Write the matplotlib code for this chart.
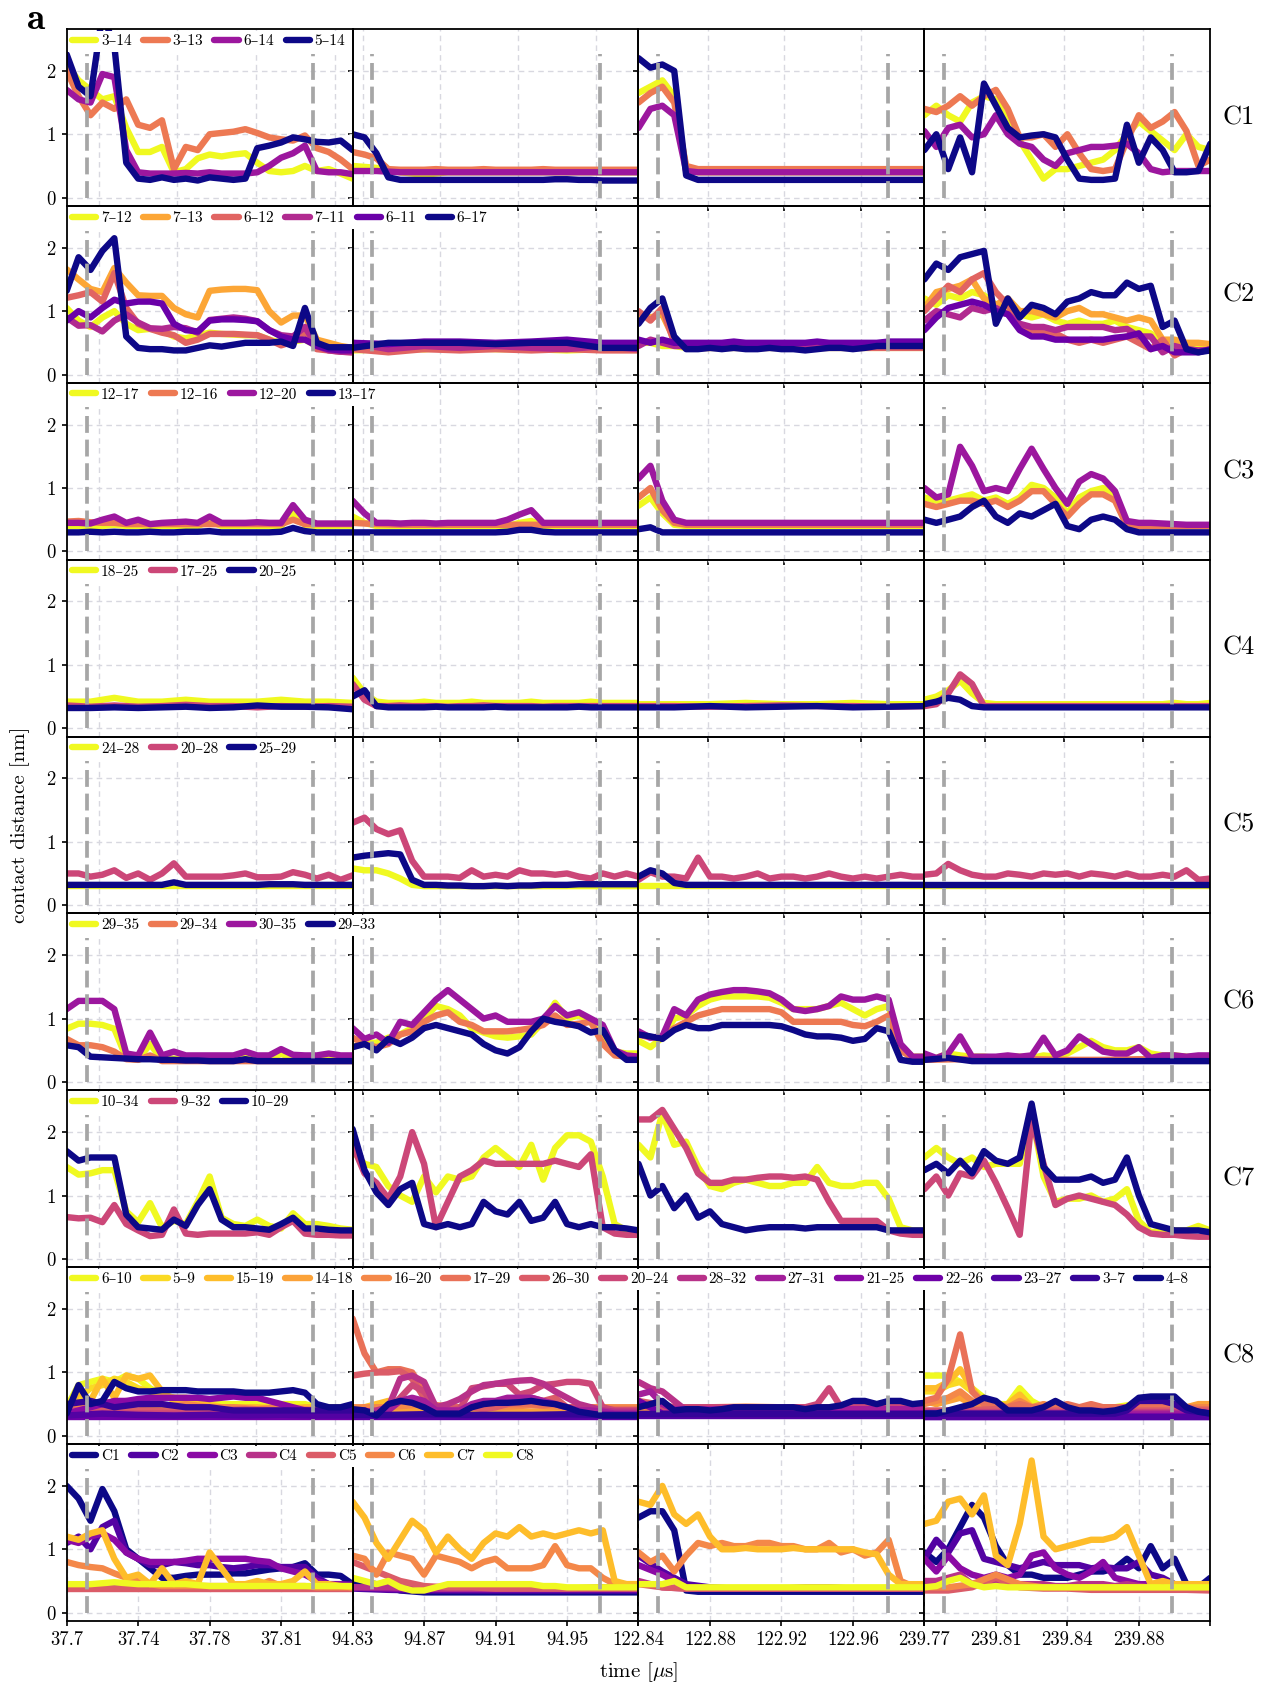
import numpy as np
import matplotlib
matplotlib.use("Agg")
import matplotlib.pyplot as plt
from matplotlib.ticker import MultipleLocator

plt.rcParams["font.family"] = ["cmr10", "DejaVu Serif"]
plt.rcParams["mathtext.fontset"] = "cm"
plt.rcParams["axes.formatter.use_mathtext"] = True

# time windows in microseconds (start, width) and the labels printed under them
win_start = [37.7037, 94.8348, 122.844, 239.7695]
win_width = [0.1455, 0.1472, 0.149, 0.1445]
win_ticklabels = [
    ["37.7", "37.74", "37.78", "37.81", ""],
    ["94.83", "94.87", "94.91", "94.95", ""],
    ["122.84", "122.88", "122.92", "122.96", ""],
    ["239.77", "239.81", "239.84", "239.88", ""],
]
# start / end of each event window
event_start = [37.714, 94.845, 122.854, 239.7796]
event_end = [37.829, 94.962, 122.974, 239.8948]

# ---- C1 ----
C1_LABELS = ["3–14", "3–13", "6–14", "5–14"]
C1_W1 = [
    [2.1, 1.85, 1.7, 1.55, 1.6, 1.1, 0.72, 0.72, 0.8, 0.4, 0.45, 0.62, 0.68, 0.65, 0.68, 0.7, 0.55, 0.42, 0.4, 0.42, 0.5, 0.42, 0.45, 0.38, 0.3],
    [2.0, 1.6, 1.3, 1.5, 1.4, 1.55, 1.15, 1.1, 1.22, 0.45, 0.8, 0.75, 1.0, 1.02, 1.04, 1.08, 1.02, 0.95, 0.92, 0.9, 0.98, 0.78, 0.72, 0.6, 0.45],
    [1.7, 1.55, 1.5, 1.95, 1.9, 0.75, 0.4, 0.38, 0.38, 0.38, 0.39, 0.38, 0.4, 0.38, 0.38, 0.38, 0.4, 0.5, 0.63, 0.7, 0.82, 0.42, 0.4, 0.4, 0.37],
    [2.26, 1.75, 1.6, 2.9, 2.4, 0.55, 0.3, 0.28, 0.32, 0.28, 0.3, 0.27, 0.32, 0.3, 0.28, 0.3, 0.78, 0.82, 0.87, 0.95, 0.92, 0.88, 0.87, 0.9, 0.75],
]
C1_W2 = [
    [0.5, 0.47, 0.4, 0.36, 0.4, 0.4, 0.4, 0.4, 0.4, 0.4, 0.4, 0.4, 0.4],
    [0.72, 0.68, 0.62, 0.45, 0.44, 0.44, 0.44, 0.45, 0.44, 0.44, 0.44, 0.45, 0.44, 0.44, 0.44, 0.44, 0.45, 0.44, 0.44, 0.44, 0.44, 0.44, 0.44, 0.44, 0.44],
    [0.42, 0.42, 0.4, 0.4, 0.4, 0.4, 0.4, 0.4, 0.4, 0.4, 0.4, 0.4, 0.4],
    [1.0, 0.95, 0.7, 0.32, 0.28, 0.28, 0.28, 0.28, 0.28, 0.28, 0.28, 0.28, 0.28, 0.28, 0.28, 0.28, 0.28, 0.29, 0.29, 0.28, 0.28, 0.27, 0.27, 0.27, 0.27],
]
C1_W3 = [
    [1.65, 1.75, 1.85, 1.6, 0.45, 0.4, 0.4, 0.4, 0.4, 0.4, 0.4, 0.4, 0.4, 0.4, 0.4, 0.4, 0.4, 0.4, 0.4, 0.4, 0.4, 0.4, 0.4, 0.4, 0.4],
    [1.5, 1.65, 1.75, 1.5, 0.5, 0.45, 0.45, 0.45, 0.45, 0.45, 0.45, 0.45, 0.45, 0.45, 0.45, 0.45, 0.45, 0.45, 0.45, 0.45, 0.45, 0.45, 0.45, 0.45, 0.45],
    [1.1, 1.4, 1.45, 1.3, 0.42, 0.4, 0.4, 0.4, 0.4, 0.4, 0.4, 0.4, 0.4, 0.4, 0.4, 0.4, 0.4, 0.4, 0.4, 0.4, 0.4, 0.4, 0.4, 0.4, 0.4],
    [2.2, 2.05, 2.1, 2.0, 0.35, 0.28, 0.28, 0.28, 0.28, 0.28, 0.28, 0.28, 0.28, 0.28, 0.28, 0.28, 0.28, 0.28, 0.28, 0.28, 0.28, 0.28, 0.28, 0.28, 0.28],
]
C1_W4 = [
    [1.3, 1.45, 1.3, 1.2, 1.5, 1.6, 1.55, 1.2, 0.9, 0.6, 0.3, 0.45, 0.45, 0.5, 0.55, 0.6, 0.75, 1.0, 1.2, 1.05, 0.9, 0.75, 1.0, 0.8, 0.75],
    [1.4, 1.35, 1.45, 1.6, 1.45, 1.6, 1.7, 1.4, 0.95, 0.95, 1.0, 0.8, 1.0, 0.7, 0.45, 0.42, 0.45, 0.9, 1.3, 1.1, 1.2, 1.35, 1.05, 0.5, 0.6],
    [1.05, 0.8, 1.1, 1.15, 0.95, 1.0, 1.3, 1.0, 0.85, 0.8, 0.6, 0.5, 0.7, 0.75, 0.8, 0.8, 0.82, 0.85, 0.7, 0.45, 0.4, 0.42, 0.42, 0.42, 0.42],
    [0.75, 1.0, 0.45, 0.95, 0.4, 1.8, 1.45, 1.1, 0.95, 0.98, 1.0, 0.95, 0.6, 0.3, 0.28, 0.28, 0.3, 1.15, 0.55, 0.95, 0.75, 0.4, 0.4, 0.42, 0.85],
]

# ---- C2 ----
C2_LABELS = ["7–12", "7–13", "6–12", "7–11", "6–11", "6–17"]
C2_W1 = [
    [1.05, 0.85, 0.75, 0.9, 1.0, 0.8, 0.7, 0.72, 0.7, 0.6, 0.57, 0.62, 0.66, 0.64, 0.63, 0.62, 0.62, 0.55, 0.5, 0.52, 0.55, 0.45, 0.4, 0.38, 0.38],
    [1.66, 1.5, 1.35, 1.3, 1.68, 1.45, 1.25, 1.24, 1.24, 1.05, 0.95, 0.9, 1.32, 1.34, 1.35, 1.35, 1.33, 1.0, 0.82, 0.93, 0.93, 0.55, 0.5, 0.45, 0.42],
    [1.21, 1.25, 1.3, 1.15, 1.6, 1.05, 0.8, 0.72, 0.66, 0.62, 0.5, 0.55, 0.64, 0.64, 0.64, 0.63, 0.62, 0.55, 0.46, 0.52, 0.68, 0.4, 0.38, 0.36, 0.35],
    [0.9, 0.77, 0.78, 0.68, 0.85, 0.95, 0.82, 0.73, 0.72, 0.75, 0.73, 0.66, 0.86, 0.88, 0.9, 0.88, 0.84, 0.7, 0.62, 0.6, 0.75, 0.45, 0.38, 0.36, 0.35],
    [0.85, 1.0, 0.9, 1.05, 1.18, 1.12, 1.15, 1.15, 1.12, 0.8, 0.7, 0.68, 0.85, 0.87, 0.87, 0.86, 0.84, 0.7, 0.6, 0.55, 0.55, 0.45, 0.4, 0.38, 0.38],
    [1.32, 1.85, 1.65, 1.95, 2.15, 0.6, 0.42, 0.4, 0.4, 0.38, 0.38, 0.42, 0.46, 0.44, 0.47, 0.5, 0.5, 0.5, 0.52, 0.45, 1.05, 0.5, 0.43, 0.43, 0.43],
]
C2_W2 = [
    [0.38, 0.4, 0.4, 0.42, 0.4, 0.4, 0.38, 0.4, 0.4],
    [0.45, 0.45, 0.4, 0.45, 0.42, 0.45, 0.42, 0.45, 0.45],
    [0.4, 0.35, 0.4, 0.38, 0.4, 0.38, 0.4, 0.38, 0.38],
    [0.5, 0.4, 0.45, 0.42, 0.45, 0.42, 0.4, 0.45, 0.4],
    [0.5, 0.48, 0.52, 0.52, 0.5, 0.52, 0.55, 0.5, 0.5],
    [0.42, 0.5, 0.5, 0.5, 0.48, 0.5, 0.5, 0.42, 0.42],
]
C2_W3 = [
    [0.5, 0.5, 0.45, 0.45, 0.42, 0.42, 0.42, 0.42, 0.42, 0.42, 0.42, 0.42, 0.42, 0.42, 0.42, 0.42, 0.42, 0.42, 0.42, 0.42, 0.42, 0.42, 0.42, 0.42, 0.42],
    [0.95, 0.9, 0.95, 0.55, 0.42, 0.42, 0.42, 0.45, 0.45, 0.45, 0.45, 0.45, 0.45, 0.45, 0.45, 0.45, 0.45, 0.45, 0.45, 0.45, 0.45, 0.45, 0.45, 0.45, 0.45],
    [1.0, 0.85, 1.05, 0.5, 0.42, 0.42, 0.42, 0.42, 0.42, 0.42, 0.42, 0.42, 0.42, 0.42, 0.42, 0.42, 0.42, 0.42, 0.42, 0.42, 0.42, 0.42, 0.42, 0.42, 0.42],
    [0.45, 0.55, 0.5, 0.45, 0.45, 0.45, 0.45, 0.45, 0.45, 0.45, 0.45, 0.45, 0.45, 0.45, 0.45, 0.45, 0.45, 0.45, 0.45, 0.45, 0.45, 0.45, 0.45, 0.45, 0.45],
    [0.55, 0.5, 0.55, 0.5, 0.5, 0.5, 0.5, 0.5, 0.52, 0.5, 0.5, 0.5, 0.5, 0.5, 0.5, 0.52, 0.5, 0.5, 0.5, 0.5, 0.5, 0.52, 0.52, 0.52, 0.52],
    [0.8, 1.05, 1.2, 0.6, 0.4, 0.4, 0.42, 0.4, 0.42, 0.4, 0.4, 0.42, 0.4, 0.4, 0.38, 0.4, 0.42, 0.42, 0.4, 0.42, 0.45, 0.45, 0.45, 0.45, 0.45],
]
C2_W4 = [
    [1.2, 1.1, 1.25, 1.2, 1.3, 1.25, 1.1, 1.05, 0.95, 0.9, 0.95, 0.85, 0.8, 0.85, 0.8, 0.8, 0.85, 0.75, 0.7, 0.65, 0.5, 0.45, 0.45, 0.45, 0.45],
    [1.05, 1.3, 1.35, 1.4, 1.5, 1.2, 1.1, 1.2, 1.0, 1.0, 0.95, 0.9, 1.0, 1.05, 0.95, 0.95, 0.9, 0.85, 0.9, 0.85, 0.55, 0.55, 0.5, 0.5, 0.48],
    [1.0, 1.2, 1.4, 1.3, 1.5, 1.6, 1.3, 1.1, 0.75, 0.7, 0.65, 0.65, 0.55, 0.5, 0.55, 0.5, 0.55, 0.6, 0.5, 0.4, 0.55, 0.3, 0.4, 0.38, 0.38],
    [0.85, 1.0, 0.95, 0.9, 1.05, 1.0, 1.05, 0.95, 0.8, 0.75, 0.75, 0.7, 0.75, 0.75, 0.75, 0.75, 0.7, 0.72, 0.6, 0.6, 0.35, 0.45, 0.4, 0.38, 0.38],
    [0.7, 0.9, 1.05, 1.1, 1.15, 1.1, 1.0, 0.95, 0.7, 0.6, 0.6, 0.55, 0.55, 0.55, 0.55, 0.55, 0.58, 0.6, 0.65, 0.4, 0.45, 0.35, 0.35, 0.35, 0.4],
    [1.5, 1.75, 1.65, 1.85, 1.9, 1.95, 0.8, 1.2, 0.9, 1.1, 1.05, 0.95, 1.15, 1.2, 1.3, 1.25, 1.25, 1.45, 1.35, 1.4, 0.75, 0.85, 0.4, 0.35, 0.38],
]

# ---- C3 ----
C3_LABELS = ["12–17", "12–16", "12–20", "13–17"]
C3_W1 = [
    [0.4, 0.4, 0.4, 0.4, 0.42, 0.4, 0.4, 0.4, 0.4, 0.4, 0.4, 0.4, 0.48, 0.4, 0.4, 0.4, 0.4, 0.4, 0.4, 0.6, 0.42, 0.4, 0.4, 0.4, 0.4],
    [0.47, 0.48, 0.46, 0.45, 0.45, 0.43, 0.43, 0.43, 0.43, 0.43, 0.43, 0.43, 0.43, 0.43, 0.43, 0.43, 0.43, 0.43, 0.43, 0.5, 0.43, 0.43, 0.43, 0.43, 0.43],
    [0.45, 0.45, 0.44, 0.5, 0.55, 0.45, 0.5, 0.43, 0.45, 0.46, 0.47, 0.45, 0.55, 0.45, 0.45, 0.45, 0.46, 0.45, 0.45, 0.73, 0.5, 0.44, 0.44, 0.44, 0.44],
    [0.3, 0.3, 0.31, 0.3, 0.31, 0.3, 0.3, 0.31, 0.3, 0.3, 0.31, 0.31, 0.32, 0.3, 0.3, 0.3, 0.3, 0.3, 0.31, 0.37, 0.32, 0.3, 0.3, 0.3, 0.3],
]
C3_W2 = [
    [0.55, 0.45, 0.4, 0.4, 0.4, 0.4, 0.4, 0.4, 0.4, 0.4, 0.4, 0.4, 0.4, 0.4, 0.45, 0.48, 0.4, 0.4, 0.4, 0.4, 0.4, 0.4, 0.4, 0.4, 0.4],
    [0.45, 0.43, 0.42, 0.42, 0.42, 0.42, 0.42, 0.42, 0.42, 0.42, 0.42, 0.42, 0.42],
    [0.8, 0.6, 0.45, 0.45, 0.44, 0.45, 0.45, 0.44, 0.45, 0.45, 0.45, 0.45, 0.45, 0.5, 0.58, 0.65, 0.45, 0.45, 0.45, 0.45, 0.45, 0.45, 0.45, 0.45, 0.45],
    [0.3, 0.3, 0.3, 0.3, 0.3, 0.3, 0.3, 0.3, 0.3, 0.3, 0.3, 0.3, 0.3, 0.31, 0.34, 0.34, 0.31, 0.3, 0.3, 0.3, 0.3, 0.3, 0.3, 0.3, 0.3],
]
C3_W3 = [
    [0.72, 0.85, 0.6, 0.42, 0.4, 0.4, 0.4, 0.4, 0.4, 0.4, 0.4, 0.4, 0.4, 0.4, 0.4, 0.4, 0.4, 0.4, 0.4, 0.4, 0.4, 0.4, 0.4, 0.4, 0.4],
    [0.85, 1.0, 0.65, 0.45, 0.42, 0.42, 0.42, 0.42, 0.42, 0.42, 0.42, 0.42, 0.42, 0.42, 0.42, 0.42, 0.42, 0.42, 0.42, 0.42, 0.42, 0.42, 0.42, 0.42, 0.42],
    [1.15, 1.35, 0.8, 0.5, 0.45, 0.45, 0.45, 0.45, 0.45, 0.45, 0.45, 0.45, 0.45, 0.45, 0.45, 0.45, 0.45, 0.45, 0.45, 0.45, 0.45, 0.45, 0.45, 0.45, 0.45],
    [0.35, 0.38, 0.3, 0.3, 0.3, 0.3, 0.3, 0.3, 0.3, 0.3, 0.3, 0.3, 0.3, 0.3, 0.3, 0.3, 0.3, 0.3, 0.3, 0.3, 0.3, 0.3, 0.3, 0.3, 0.3],
]
C3_W4 = [
    [0.85, 0.8, 0.8, 0.85, 0.9, 0.8, 0.85, 0.75, 0.85, 1.05, 1.0, 0.85, 0.6, 0.85, 0.95, 1.0, 0.85, 0.4, 0.4, 0.4, 0.4, 0.4, 0.4, 0.4, 0.4],
    [0.75, 0.7, 0.75, 0.8, 0.8, 0.75, 0.8, 0.7, 0.8, 0.95, 0.95, 0.75, 0.55, 0.75, 0.9, 0.9, 0.8, 0.4, 0.4, 0.4, 0.4, 0.4, 0.4, 0.4, 0.4],
    [1.0, 0.85, 0.9, 1.65, 1.35, 0.95, 1.0, 0.95, 1.3, 1.62, 1.3, 1.0, 0.75, 1.1, 1.22, 1.15, 0.95, 0.48, 0.45, 0.45, 0.44, 0.43, 0.42, 0.42, 0.42],
    [0.5, 0.45, 0.5, 0.55, 0.7, 0.8, 0.55, 0.45, 0.6, 0.55, 0.65, 0.75, 0.4, 0.35, 0.5, 0.55, 0.5, 0.35, 0.3, 0.3, 0.3, 0.3, 0.3, 0.3, 0.3],
]

# ---- C4 ----
C4_LABELS = ["18–25", "17–25", "20–25"]
C4_W1 = [
    [0.42, 0.42, 0.48, 0.42, 0.42, 0.45, 0.42, 0.42, 0.42, 0.45, 0.42, 0.42, 0.4],
    [0.36, 0.34, 0.36, 0.34, 0.35, 0.37, 0.35, 0.35, 0.33, 0.35, 0.34, 0.35, 0.34],
    [0.32, 0.32, 0.33, 0.32, 0.33, 0.34, 0.32, 0.33, 0.36, 0.34, 0.34, 0.33, 0.3],
]
C4_W2 = [
    [0.8, 0.55, 0.42, 0.4, 0.4, 0.4, 0.42, 0.4, 0.4, 0.4, 0.42, 0.4, 0.4, 0.4, 0.4, 0.42, 0.4, 0.4, 0.4, 0.4, 0.42, 0.4, 0.4, 0.4, 0.4],
    [0.7, 0.45, 0.35, 0.35, 0.36, 0.35, 0.35, 0.35, 0.34, 0.35, 0.35, 0.36, 0.35, 0.35, 0.35, 0.35, 0.34, 0.35, 0.35, 0.35, 0.35, 0.35, 0.35, 0.35, 0.35],
    [0.5, 0.6, 0.35, 0.33, 0.33, 0.33, 0.33, 0.34, 0.33, 0.33, 0.33, 0.33, 0.34, 0.33, 0.33, 0.33, 0.33, 0.33, 0.33, 0.34, 0.33, 0.33, 0.33, 0.33, 0.33],
]
C4_W3 = [
    [0.38, 0.38, 0.38, 0.4, 0.38, 0.38, 0.4, 0.38, 0.38],
    [0.35, 0.35, 0.34, 0.35, 0.36, 0.35, 0.35, 0.34, 0.35],
    [0.33, 0.33, 0.35, 0.33, 0.34, 0.35, 0.33, 0.34, 0.35],
]
C4_W4 = [
    [0.45, 0.5, 0.6, 0.75, 0.55, 0.4, 0.38, 0.38, 0.38, 0.38, 0.38, 0.38, 0.38, 0.38, 0.38, 0.38, 0.38, 0.38, 0.38, 0.38, 0.38, 0.4, 0.38, 0.38, 0.4],
    [0.35, 0.38, 0.55, 0.85, 0.7, 0.35, 0.35, 0.35, 0.35, 0.35, 0.35, 0.35, 0.35, 0.35, 0.35, 0.35, 0.35, 0.35, 0.35, 0.35, 0.35, 0.35, 0.35, 0.35, 0.35],
    [0.38, 0.42, 0.48, 0.45, 0.35, 0.33, 0.33, 0.33, 0.33, 0.33, 0.33, 0.33, 0.33, 0.33, 0.33, 0.33, 0.33, 0.33, 0.33, 0.33, 0.33, 0.33, 0.33, 0.33, 0.33],
]

# ---- C5 ----
C5_LABELS = ["24–28", "20–28", "25–29"]
C5_W1 = [
    [0.3, 0.3, 0.3, 0.3, 0.3, 0.3, 0.3, 0.3, 0.3],
    [0.5, 0.5, 0.45, 0.48, 0.55, 0.43, 0.5, 0.4, 0.5, 0.66, 0.45, 0.45, 0.45, 0.45, 0.47, 0.5, 0.44, 0.44, 0.45, 0.52, 0.48, 0.42, 0.48, 0.4, 0.47],
    [0.32, 0.32, 0.32, 0.32, 0.32, 0.32, 0.32, 0.32, 0.32, 0.36, 0.32, 0.32, 0.32, 0.32, 0.32, 0.32, 0.32, 0.33, 0.33, 0.33, 0.32, 0.32, 0.32, 0.32, 0.32],
]
C5_W2 = [
    [0.58, 0.55, 0.55, 0.5, 0.42, 0.32, 0.3, 0.3, 0.3, 0.3, 0.3, 0.3, 0.3, 0.3, 0.3, 0.3, 0.3, 0.3, 0.3, 0.3, 0.3, 0.3, 0.3, 0.3, 0.3],
    [1.3, 1.38, 1.2, 1.12, 1.18, 0.7, 0.45, 0.45, 0.45, 0.43, 0.55, 0.45, 0.48, 0.45, 0.55, 0.5, 0.5, 0.48, 0.5, 0.45, 0.42, 0.5, 0.45, 0.5, 0.45],
    [0.75, 0.78, 0.8, 0.82, 0.8, 0.4, 0.32, 0.32, 0.31, 0.31, 0.3, 0.3, 0.31, 0.3, 0.31, 0.31, 0.32, 0.32, 0.32, 0.33, 0.33, 0.33, 0.33, 0.33, 0.33],
]
C5_W3 = [
    [0.3, 0.3, 0.3, 0.3, 0.3, 0.3, 0.3, 0.3, 0.3],
    [0.4, 0.52, 0.45, 0.45, 0.42, 0.75, 0.45, 0.45, 0.42, 0.45, 0.5, 0.42, 0.45, 0.45, 0.42, 0.45, 0.5, 0.45, 0.42, 0.45, 0.42, 0.45, 0.48, 0.45, 0.45],
    [0.45, 0.55, 0.5, 0.35, 0.32, 0.32, 0.32, 0.32, 0.32, 0.32, 0.32, 0.32, 0.32, 0.32, 0.32, 0.32, 0.32, 0.32, 0.32, 0.32, 0.32, 0.32, 0.32, 0.32, 0.32],
]
C5_W4 = [
    [0.3, 0.3, 0.3, 0.3, 0.3, 0.3, 0.3, 0.3, 0.3],
    [0.48, 0.5, 0.65, 0.55, 0.48, 0.45, 0.45, 0.5, 0.48, 0.45, 0.5, 0.48, 0.5, 0.45, 0.5, 0.48, 0.45, 0.5, 0.45, 0.45, 0.48, 0.45, 0.55, 0.4, 0.42],
    [0.32, 0.32, 0.32, 0.32, 0.32, 0.32, 0.32, 0.32, 0.32],
]

# ---- C6 ----
C6_LABELS = ["29–35", "29–34", "30–35", "29–33"]
C6_W1 = [
    [0.84, 0.92, 0.92, 0.9, 0.84, 0.38, 0.35, 0.6, 0.35, 0.37, 0.35, 0.35, 0.35, 0.35, 0.35, 0.42, 0.35, 0.35, 0.45, 0.36, 0.35, 0.35, 0.36, 0.35, 0.35],
    [0.68, 0.58, 0.58, 0.55, 0.48, 0.36, 0.35, 0.42, 0.33, 0.33, 0.33, 0.33, 0.33, 0.33, 0.33, 0.33, 0.33, 0.33, 0.33, 0.33, 0.33, 0.33, 0.33, 0.33, 0.33],
    [1.15, 1.28, 1.28, 1.28, 1.15, 0.45, 0.42, 0.78, 0.42, 0.48, 0.42, 0.42, 0.42, 0.42, 0.42, 0.48, 0.42, 0.42, 0.52, 0.43, 0.42, 0.42, 0.45, 0.42, 0.42],
    [0.58, 0.55, 0.4, 0.39, 0.38, 0.37, 0.36, 0.36, 0.35, 0.35, 0.34, 0.34, 0.33, 0.33, 0.33, 0.36, 0.33, 0.33, 0.33, 0.33, 0.33, 0.33, 0.33, 0.33, 0.33],
]
C6_W2 = [
    [0.55, 0.62, 0.62, 0.7, 0.75, 0.85, 1.0, 1.2, 1.15, 1.05, 0.85, 0.78, 0.72, 0.7, 0.72, 0.75, 0.95, 1.25, 1.0, 1.05, 0.95, 0.7, 0.48, 0.45, 0.45],
    [0.7, 0.6, 0.55, 0.6, 0.75, 0.8, 0.95, 1.05, 1.1, 0.95, 0.9, 0.8, 0.8, 0.8, 0.82, 0.85, 0.9, 1.05, 0.9, 0.92, 0.95, 0.6, 0.42, 0.4, 0.4],
    [0.85, 0.68, 0.75, 0.62, 0.95, 0.9, 1.1, 1.3, 1.45, 1.3, 1.15, 1.0, 1.05, 0.95, 0.95, 0.95, 1.0, 1.2, 1.05, 1.1, 1.0, 0.9, 0.5, 0.42, 0.4],
    [0.55, 0.6, 0.5, 0.68, 0.6, 0.7, 0.85, 0.9, 0.85, 0.8, 0.75, 0.6, 0.5, 0.45, 0.55, 0.8, 1.0, 0.95, 0.92, 0.88, 0.78, 0.82, 0.5, 0.35, 0.35],
]
C6_W3 = [
    [0.65, 0.55, 0.7, 1.0, 1.05, 1.2, 1.3, 1.35, 1.35, 1.35, 1.35, 1.33, 1.25, 1.15, 1.15, 1.15, 1.2, 1.25, 1.15, 1.05, 1.15, 1.2, 0.55, 0.4, 0.4],
    [0.75, 0.7, 0.72, 0.85, 0.95, 1.05, 1.1, 1.15, 1.15, 1.15, 1.15, 1.15, 1.1, 0.95, 0.95, 0.95, 0.95, 0.95, 0.9, 0.88, 0.95, 1.05, 0.5, 0.38, 0.38],
    [0.8, 0.7, 0.72, 1.15, 1.05, 1.3, 1.38, 1.42, 1.45, 1.45, 1.43, 1.4, 1.3, 1.15, 1.12, 1.15, 1.2, 1.35, 1.3, 1.3, 1.35, 1.3, 0.6, 0.4, 0.4],
    [0.75, 0.72, 0.68, 0.82, 0.9, 0.85, 0.85, 0.9, 0.9, 0.9, 0.9, 0.9, 0.88, 0.82, 0.75, 0.72, 0.72, 0.7, 0.65, 0.68, 0.85, 0.8, 0.35, 0.32, 0.32],
]
C6_W4 = [
    [0.35, 0.38, 0.45, 0.42, 0.4, 0.4, 0.38, 0.4, 0.4, 0.38, 0.42, 0.4, 0.45, 0.55, 0.65, 0.55, 0.5, 0.5, 0.55, 0.45, 0.42, 0.42, 0.4, 0.4, 0.4],
    [0.35, 0.36, 0.38, 0.36, 0.35, 0.35, 0.36, 0.35, 0.35],
    [0.45, 0.38, 0.45, 0.72, 0.4, 0.4, 0.4, 0.42, 0.4, 0.42, 0.7, 0.42, 0.5, 0.72, 0.6, 0.48, 0.45, 0.45, 0.55, 0.38, 0.42, 0.42, 0.4, 0.42, 0.42],
    [0.35, 0.38, 0.33, 0.33, 0.33, 0.33, 0.33, 0.33, 0.33, 0.33, 0.33, 0.33, 0.33],
]

# ---- C7 ----
C7_LABELS = ["10–34", "9–32", "10–29"]
C7_W1 = [
    [1.45, 1.33, 1.35, 1.4, 1.4, 0.75, 0.58, 0.88, 0.5, 0.6, 0.55, 0.9, 1.3, 0.65, 0.55, 0.52, 0.62, 0.52, 0.48, 0.72, 0.55, 0.55, 0.52, 0.48, 0.46],
    [0.66, 0.64, 0.65, 0.58, 0.85, 0.55, 0.45, 0.36, 0.38, 0.78, 0.4, 0.38, 0.4, 0.4, 0.4, 0.4, 0.42, 0.38, 0.5, 0.6, 0.4, 0.38, 0.38, 0.37, 0.37],
    [1.7, 1.55, 1.6, 1.6, 1.6, 0.7, 0.5, 0.48, 0.46, 0.62, 0.52, 0.85, 1.1, 0.62, 0.5, 0.5, 0.48, 0.46, 0.55, 0.65, 0.48, 0.48, 0.46, 0.45, 0.45],
]
C7_W2 = [
    [1.7, 1.5, 1.45, 1.15, 1.0, 0.9, 1.3, 1.05, 1.3, 1.25, 1.3, 1.6, 1.75, 1.6, 1.45, 1.8, 1.25, 1.75, 1.95, 1.95, 1.85, 1.3, 0.55, 0.45, 0.45],
    [1.8, 1.35, 1.2, 0.95, 1.3, 2.0, 1.5, 0.5, 0.9, 1.3, 1.4, 1.55, 1.5, 1.5, 1.5, 1.5, 1.5, 1.55, 1.5, 1.45, 1.65, 0.5, 0.4, 0.38, 0.38],
    [2.05, 1.4, 1.05, 0.85, 1.1, 1.2, 0.55, 0.5, 0.55, 0.5, 0.55, 0.9, 0.75, 0.7, 0.9, 0.6, 0.65, 0.9, 0.55, 0.5, 0.55, 0.5, 0.5, 0.48, 0.45],
]
C7_W3 = [
    [1.8, 1.6, 2.3, 1.8, 1.85, 1.45, 1.15, 1.1, 1.2, 1.25, 1.2, 1.15, 1.15, 1.2, 1.2, 1.45, 1.2, 1.15, 1.15, 1.2, 1.2, 0.95, 0.5, 0.45, 0.45],
    [2.2, 2.2, 2.35, 2.05, 1.75, 1.35, 1.2, 1.2, 1.25, 1.25, 1.28, 1.3, 1.3, 1.28, 1.3, 1.25, 0.9, 0.6, 0.6, 0.6, 0.6, 0.45, 0.4, 0.38, 0.38],
    [1.5, 1.0, 1.15, 0.8, 1.0, 0.65, 0.75, 0.55, 0.5, 0.45, 0.48, 0.5, 0.5, 0.5, 0.48, 0.5, 0.5, 0.5, 0.5, 0.5, 0.5, 0.45, 0.45, 0.45, 0.45],
]
C7_W4 = [
    [1.6, 1.75, 1.6, 1.5, 1.6, 1.45, 1.5, 1.5, 1.5, 2.3, 1.3, 0.9, 0.95, 0.95, 1.0, 0.9, 0.95, 1.1, 0.6, 0.42, 0.45, 0.45, 0.45, 0.52, 0.45],
    [1.1, 1.3, 1.0, 1.35, 1.3, 1.55, 1.2, 0.8, 0.38, 2.2, 1.5, 0.85, 0.95, 1.0, 0.95, 0.9, 0.85, 0.7, 0.5, 0.4, 0.38, 0.38, 0.36, 0.35, 0.35],
    [1.4, 1.5, 1.35, 1.55, 1.35, 1.7, 1.55, 1.5, 1.6, 2.45, 1.45, 1.25, 1.25, 1.25, 1.3, 1.2, 1.25, 1.6, 1.0, 0.55, 0.5, 0.45, 0.45, 0.45, 0.42],
]

# ---- C8 ----
C8_LABELS = ["6–10", "5–9", "15–19", "14–18", "16–20", "17–29", "26–30", "20–24",
             "28–32", "27–31", "21–25", "22–26", "23–27", "3–7", "4–8"]
C8_W1 = [
    [0.45, 0.8, 0.85, 0.9, 0.85, 0.95, 0.9, 0.75, 0.65, 0.6, 0.6, 0.55, 0.5, 0.5, 0.5, 0.5, 0.55, 0.5, 0.5, 0.5, 0.5, 0.45, 0.45, 0.45, 0.4],
    [0.4, 0.6, 0.75, 0.8, 0.9, 0.85, 0.75, 0.7, 0.65, 0.6, 0.55, 0.5, 0.5, 0.45, 0.45, 0.45, 0.45, 0.45, 0.45, 0.45, 0.45, 0.45, 0.45, 0.42, 0.42],
    [0.35, 0.7, 0.55, 0.9, 0.6, 0.95, 0.9, 0.95, 0.7, 0.55, 0.5, 0.5, 0.48, 0.45, 0.45, 0.45, 0.45, 0.42, 0.42, 0.42, 0.45, 0.45, 0.42, 0.4, 0.4],
    [0.4, 0.5, 0.45, 0.55, 0.5, 0.55, 0.5, 0.45, 0.5, 0.45, 0.45, 0.42, 0.42, 0.4, 0.42, 0.42, 0.4, 0.42, 0.4, 0.42, 0.4, 0.4, 0.42, 0.4, 0.4],
    [0.45, 0.55, 0.45, 0.5, 0.45, 0.5, 0.45, 0.45, 0.42, 0.45, 0.42, 0.4, 0.42],
    [0.35, 0.4, 0.35, 0.38, 0.35, 0.38, 0.35, 0.35, 0.36],
    [0.4, 0.42, 0.4, 0.38, 0.4, 0.42, 0.4, 0.4, 0.4],
    [0.35, 0.36, 0.35, 0.35, 0.34, 0.35, 0.36, 0.35, 0.35],
    [0.32, 0.33, 0.32, 0.32, 0.33, 0.32, 0.32, 0.33, 0.32],
    [0.3, 0.3, 0.31, 0.3, 0.3, 0.31, 0.3, 0.3, 0.3],
    [0.35, 0.4, 0.45, 0.5, 0.55, 0.55, 0.58, 0.6, 0.6, 0.6, 0.6, 0.6, 0.58, 0.6, 0.62, 0.6, 0.6, 0.55, 0.5, 0.45, 0.4, 0.38, 0.35, 0.35, 0.35],
    [0.3, 0.3, 0.3, 0.3, 0.3, 0.3, 0.3, 0.3, 0.3],
    [0.32, 0.35, 0.33, 0.32, 0.33, 0.32, 0.33, 0.32, 0.32],
    [0.5, 0.55, 0.45, 0.5, 0.5, 0.45, 0.45, 0.4, 0.4, 0.4, 0.4, 0.4, 0.4],
    [0.35, 0.8, 0.5, 0.55, 0.85, 0.75, 0.7, 0.7, 0.72, 0.72, 0.72, 0.7, 0.7, 0.7, 0.7, 0.68, 0.68, 0.68, 0.7, 0.72, 0.68, 0.5, 0.45, 0.45, 0.5],
]
C8_W2 = [
    [0.3, 0.3, 0.32, 0.3, 0.3, 0.3, 0.3, 0.3, 0.3],
    [0.35, 0.35, 0.34, 0.35, 0.35, 0.36, 0.35, 0.35, 0.35],
    [0.4, 0.55, 0.35, 0.35, 0.36, 0.35, 0.35, 0.35, 0.35],
    [0.38, 0.38, 0.4, 0.38, 0.38, 0.38, 0.38, 0.38, 0.38],
    [0.45, 0.45, 0.5, 0.45, 0.45, 0.48, 0.45, 0.45, 0.45],
    [1.85, 1.3, 1.0, 1.05, 1.05, 1.0, 0.7, 0.45, 0.45, 0.45, 0.45, 0.45, 0.48, 0.5, 0.5, 0.5, 0.48, 0.5, 0.45, 0.45, 0.45, 0.42, 0.42, 0.42, 0.42],
    [0.95, 0.98, 1.0, 1.0, 1.02, 0.9, 0.6, 0.48, 0.42, 0.45, 0.45, 0.42, 0.45, 0.5, 0.55, 0.6, 0.55, 0.6, 0.45, 0.45, 0.42, 0.42, 0.4, 0.4, 0.4],
    [0.35, 0.35, 0.38, 0.4, 0.6, 0.8, 0.7, 0.45, 0.4, 0.42, 0.75, 0.78, 0.82, 0.82, 0.65, 0.7, 0.8, 0.82, 0.85, 0.85, 0.82, 0.45, 0.4, 0.4, 0.4],
    [0.4, 0.38, 0.4, 0.45, 0.9, 0.95, 0.85, 0.45, 0.5, 0.58, 0.7, 0.8, 0.82, 0.85, 0.87, 0.88, 0.82, 0.7, 0.6, 0.5, 0.45, 0.4, 0.38, 0.38, 0.38],
    [0.35, 0.4, 0.35, 0.4, 0.55, 0.6, 0.55, 0.4, 0.4, 0.4, 0.5, 0.55, 0.55, 0.6, 0.6, 0.6, 0.55, 0.5, 0.45, 0.4, 0.4, 0.38, 0.35, 0.35, 0.35],
    [0.32, 0.32, 0.33, 0.32, 0.32, 0.32, 0.32, 0.33, 0.32],
    [0.3, 0.3, 0.3, 0.3, 0.3, 0.3, 0.3, 0.3, 0.3],
    [0.3, 0.31, 0.3, 0.3, 0.31, 0.3, 0.3, 0.31, 0.3],
    [0.33, 0.33, 0.34, 0.33, 0.33, 0.33, 0.34, 0.33, 0.33],
    [0.42, 0.4, 0.32, 0.5, 0.55, 0.52, 0.45, 0.35, 0.35, 0.35, 0.45, 0.5, 0.52, 0.52, 0.53, 0.55, 0.52, 0.5, 0.45, 0.38, 0.35, 0.32, 0.32, 0.32, 0.32],
]
C8_W3 = [
    [0.4, 0.4, 0.4, 0.4, 0.4, 0.4, 0.4, 0.4, 0.4],
    [0.42, 0.42, 0.42, 0.42, 0.42, 0.42, 0.42, 0.42, 0.42],
    [0.45, 0.45, 0.44, 0.45, 0.45, 0.45, 0.44, 0.45, 0.45],
    [0.45, 0.44, 0.45, 0.45, 0.45, 0.45, 0.45, 0.44, 0.45],
    [0.45, 0.45, 0.45, 0.46, 0.45, 0.45, 0.45, 0.45, 0.45],
    [0.5, 0.45, 0.45, 0.45, 0.45, 0.45, 0.45, 0.45, 0.45],
    [0.55, 0.45, 0.45, 0.45, 0.45, 0.45, 0.45, 0.45, 0.45],
    [0.5, 0.45, 0.45, 0.45, 0.45, 0.45, 0.45, 0.45, 0.45, 0.45, 0.45, 0.45, 0.45, 0.45, 0.45, 0.5, 0.75, 0.45, 0.45, 0.45, 0.45, 0.45, 0.45, 0.45, 0.45],
    [0.85, 0.75, 0.7, 0.55, 0.4, 0.4, 0.4, 0.4, 0.4, 0.4, 0.4, 0.4, 0.4, 0.4, 0.4, 0.4, 0.4, 0.4, 0.4, 0.4, 0.4, 0.4, 0.4, 0.4, 0.4],
    [0.65, 0.7, 0.5, 0.42, 0.42, 0.42, 0.42, 0.42, 0.42, 0.42, 0.42, 0.42, 0.42, 0.42, 0.42, 0.42, 0.42, 0.42, 0.42, 0.42, 0.42, 0.42, 0.42, 0.42, 0.42],
    [0.35, 0.35, 0.35, 0.35, 0.35, 0.35, 0.35, 0.35, 0.35],
    [0.55, 0.45, 0.35, 0.35, 0.35, 0.35, 0.35, 0.35, 0.35, 0.35, 0.35, 0.35, 0.35, 0.35, 0.35, 0.35, 0.35, 0.35, 0.35, 0.35, 0.35, 0.35, 0.35, 0.35, 0.35],
    [0.32, 0.32, 0.32, 0.32, 0.32, 0.32, 0.32, 0.32, 0.32],
    [0.35, 0.35, 0.35, 0.35, 0.35, 0.35, 0.35, 0.35, 0.35],
    [0.45, 0.5, 0.55, 0.4, 0.42, 0.42, 0.4, 0.42, 0.45, 0.45, 0.45, 0.45, 0.45, 0.45, 0.42, 0.45, 0.45, 0.48, 0.55, 0.55, 0.5, 0.55, 0.55, 0.5, 0.52],
]
C8_W4 = [
    [0.95, 0.95, 0.95, 0.85, 0.75, 0.6, 0.5, 0.5, 0.75, 0.55, 0.45, 0.45, 0.45, 0.45, 0.45, 0.45, 0.45, 0.48, 0.45, 0.45, 0.45, 0.42, 0.4, 0.4, 0.4],
    [0.7, 0.7, 0.8, 0.85, 0.7, 0.55, 0.45, 0.45, 0.5, 0.45, 0.42, 0.42, 0.42, 0.42, 0.42, 0.42, 0.42, 0.42, 0.42, 0.42, 0.42, 0.42, 0.42, 0.42, 0.42],
    [0.75, 0.75, 0.85, 1.05, 0.75, 0.5, 0.45, 0.5, 0.65, 0.45, 0.45, 0.45, 0.45, 0.45, 0.45, 0.45, 0.45, 0.45, 0.45, 0.45, 0.45, 0.45, 0.45, 0.45, 0.45],
    [0.55, 0.5, 0.55, 0.6, 0.5, 0.45, 0.45, 0.45, 0.45, 0.45, 0.45, 0.45, 0.45, 0.45, 0.45, 0.45, 0.45, 0.45, 0.45, 0.45, 0.45, 0.45, 0.45, 0.5, 0.5],
    [0.5, 0.55, 0.6, 0.7, 0.55, 0.45, 0.5, 0.45, 0.55, 0.45, 0.5, 0.45, 0.45, 0.45, 0.45, 0.45, 0.45, 0.45, 0.45, 0.45, 0.45, 0.45, 0.45, 0.45, 0.45],
    [0.55, 0.6, 0.9, 1.6, 0.7, 0.5, 0.45, 0.45, 0.5, 0.45, 0.45, 0.45, 0.5, 0.45, 0.5, 0.45, 0.45, 0.45, 0.45, 0.45, 0.45, 0.45, 0.45, 0.42, 0.42],
    [0.4, 0.4, 0.42, 0.4, 0.4, 0.4, 0.4, 0.4, 0.4],
    [0.38, 0.38, 0.38, 0.38, 0.38, 0.38, 0.38, 0.38, 0.38],
    [0.36, 0.36, 0.36, 0.36, 0.36, 0.36, 0.36, 0.36, 0.36],
    [0.34, 0.34, 0.34, 0.34, 0.34, 0.34, 0.34, 0.34, 0.34],
    [0.32, 0.32, 0.32, 0.32, 0.32, 0.32, 0.32, 0.32, 0.32],
    [0.3, 0.3, 0.3, 0.3, 0.3, 0.3, 0.3, 0.3, 0.3],
    [0.3, 0.3, 0.3, 0.3, 0.3, 0.3, 0.3, 0.3, 0.3],
    [0.35, 0.35, 0.35, 0.35, 0.35, 0.35, 0.35, 0.35, 0.35, 0.35, 0.35, 0.35, 0.35, 0.35, 0.35, 0.35, 0.35, 0.4, 0.55, 0.55, 0.55, 0.5, 0.4, 0.38, 0.35],
    [0.35, 0.35, 0.4, 0.45, 0.5, 0.6, 0.55, 0.4, 0.4, 0.4, 0.45, 0.55, 0.45, 0.4, 0.4, 0.38, 0.4, 0.45, 0.6, 0.62, 0.62, 0.62, 0.45, 0.38, 0.35],
]

# ---- summary over all contact groups ----
SUM_LABELS = ["C1", "C2", "C3", "C4", "C5", "C6", "C7", "C8"]
SUM_W1 = [
    [2.0, 1.8, 1.45, 1.95, 1.6, 1.0, 0.85, 0.7, 0.55, 0.55, 0.58, 0.6, 0.6, 0.6, 0.62, 0.62, 0.65, 0.68, 0.7, 0.72, 0.78, 0.6, 0.6, 0.58, 0.45],
    [1.1, 1.2, 1.0, 1.35, 1.45, 0.95, 0.85, 0.75, 0.75, 0.8, 0.78, 0.75, 0.75, 0.72, 0.7, 0.72, 0.75, 0.75, 0.72, 0.72, 0.72, 0.55, 0.45, 0.45, 0.45],
    [1.15, 1.1, 1.2, 1.25, 1.15, 0.95, 0.85, 0.8, 0.8, 0.8, 0.82, 0.85, 0.85, 0.85, 0.85, 0.85, 0.82, 0.8, 0.7, 0.65, 0.6, 0.5, 0.45, 0.45, 0.42],
    [0.4, 0.4, 0.45, 0.4, 0.4, 0.42, 0.4, 0.4, 0.42, 0.4, 0.4, 0.4, 0.4],
    [0.38, 0.38, 0.38, 0.38, 0.38, 0.38, 0.38, 0.38, 0.38],
    [0.8, 0.75, 0.72, 0.7, 0.62, 0.55, 0.5, 0.45, 0.42, 0.42, 0.42, 0.42, 0.42, 0.42, 0.42, 0.42, 0.42, 0.5, 0.42, 0.42, 0.42, 0.4, 0.4, 0.4, 0.4],
    [1.2, 1.15, 1.25, 1.3, 0.85, 0.55, 0.6, 0.45, 0.7, 0.45, 0.5, 0.45, 0.95, 0.7, 0.45, 0.45, 0.5, 0.45, 0.45, 0.5, 0.65, 0.45, 0.45, 0.42, 0.4],
    [0.45, 0.45, 0.48, 0.45, 0.45, 0.45, 0.42, 0.42, 0.42, 0.42, 0.42, 0.42, 0.42],
]
SUM_W2 = [
    [0.5, 0.45, 0.35, 0.32, 0.32, 0.32, 0.32, 0.32, 0.32, 0.32, 0.32, 0.32, 0.32],
    [0.38, 0.36, 0.35, 0.35, 0.35, 0.35, 0.35, 0.35, 0.35],
    [0.4, 0.38, 0.37, 0.37, 0.37, 0.37, 0.37, 0.37, 0.37],
    [0.4, 0.4, 0.38, 0.38, 0.38, 0.38, 0.38, 0.4, 0.38],
    [0.8, 0.65, 0.5, 0.42, 0.4, 0.4, 0.38, 0.38, 0.38, 0.38, 0.38, 0.38, 0.38],
    [0.9, 0.85, 0.6, 0.95, 0.9, 0.85, 0.6, 0.9, 0.85, 0.8, 0.7, 0.8, 0.85, 0.7, 0.7, 0.7, 0.75, 1.05, 0.75, 0.7, 0.7, 0.55, 0.45, 0.45, 0.45],
    [1.75, 1.5, 1.1, 0.85, 1.15, 1.45, 1.3, 0.95, 1.2, 1.0, 0.85, 1.1, 1.25, 1.2, 1.35, 1.2, 1.25, 1.2, 1.25, 1.3, 1.25, 1.3, 0.5, 0.45, 0.45],
    [0.55, 0.5, 0.45, 0.5, 0.4, 0.35, 0.35, 0.4, 0.45, 0.45, 0.45, 0.45, 0.45, 0.45, 0.45, 0.45, 0.42, 0.42, 0.4, 0.4, 0.4, 0.4, 0.4, 0.4, 0.4],
]
SUM_W3 = [
    [1.5, 1.6, 1.6, 1.3, 0.35, 0.33, 0.33, 0.33, 0.33, 0.33, 0.33, 0.33, 0.33, 0.33, 0.33, 0.33, 0.33, 0.33, 0.33, 0.33, 0.33, 0.33, 0.33, 0.33, 0.33],
    [0.9, 0.65, 0.45, 0.4, 0.38, 0.38, 0.38, 0.38, 0.38, 0.38, 0.38, 0.38, 0.38],
    [0.75, 0.6, 0.4, 0.38, 0.38, 0.38, 0.38, 0.4, 0.4, 0.38, 0.38, 0.38, 0.38],
    [0.5, 0.4, 0.38, 0.38, 0.38, 0.38, 0.38, 0.38, 0.38, 0.38, 0.38, 0.38, 0.38],
    [0.45, 0.4, 0.38, 0.38, 0.38, 0.38, 0.38, 0.38, 0.38, 0.38, 0.38, 0.38, 0.38],
    [0.95, 0.8, 0.9, 0.65, 0.9, 1.1, 1.05, 1.1, 1.05, 1.05, 1.1, 1.1, 1.05, 1.05, 1.0, 1.0, 1.1, 0.95, 1.0, 0.9, 0.95, 1.15, 0.5, 0.42, 0.42],
    [1.75, 1.7, 2.0, 1.55, 1.4, 1.55, 1.2, 1.0, 1.0, 1.02, 1.0, 1.0, 1.0, 1.02, 1.0, 1.0, 1.0, 1.0, 1.0, 0.95, 0.92, 0.6, 0.45, 0.45, 0.45],
    [0.45, 0.45, 0.45, 0.5, 0.4, 0.4, 0.4, 0.4, 0.4, 0.4, 0.4, 0.4, 0.4, 0.4, 0.4, 0.4, 0.4, 0.4, 0.4, 0.4, 0.4, 0.4, 0.4, 0.4, 0.4],
]
SUM_W4 = [
    [0.95, 0.8, 1.0, 1.35, 1.7, 1.5, 1.05, 0.75, 0.6, 0.6, 0.55, 0.55, 0.55, 0.6, 0.65, 0.65, 0.7, 0.85, 0.7, 1.05, 0.7, 0.85, 0.45, 0.4, 0.55],
    [0.85, 1.15, 0.95, 1.25, 1.3, 0.85, 0.8, 0.75, 0.7, 0.75, 0.8, 0.75, 0.75, 0.75, 0.7, 0.72, 0.7, 0.7, 0.8, 0.6, 0.55, 0.45, 0.42, 0.4, 0.4],
    [0.85, 0.65, 0.9, 0.7, 0.6, 0.55, 0.6, 0.55, 0.6, 0.9, 0.95, 0.7, 0.6, 0.55, 0.65, 0.8, 0.55, 0.5, 0.45, 0.45, 0.45, 0.42, 0.4, 0.4, 0.4],
    [0.5, 0.5, 0.55, 0.6, 0.45, 0.5, 0.45, 0.45, 0.45, 0.45, 0.45, 0.42, 0.42, 0.45, 0.45, 0.45, 0.42, 0.45, 0.42, 0.4, 0.4, 0.4, 0.4, 0.4, 0.4],
    [0.35, 0.35, 0.4, 0.55, 0.4, 0.38, 0.38, 0.36, 0.36, 0.36, 0.36, 0.36, 0.35],
    [0.4, 0.4, 0.45, 0.6, 0.45, 0.4, 0.4, 0.4, 0.4, 0.4, 0.4, 0.4, 0.4],
    [1.4, 1.45, 1.75, 1.8, 1.55, 1.85, 0.9, 0.75, 1.4, 2.4, 1.2, 1.0, 1.05, 1.1, 1.15, 1.15, 1.2, 1.35, 0.9, 0.45, 0.5, 0.45, 0.45, 0.45, 0.45],
    [0.4, 0.42, 0.5, 0.55, 0.45, 0.4, 0.42, 0.4, 0.4, 0.4, 0.4, 0.4, 0.4, 0.4, 0.4, 0.4, 0.4, 0.4, 0.4, 0.4, 0.4, 0.4, 0.4, 0.4, 0.4],
]

rows = [
    ("C1", C1_LABELS, [C1_W1, C1_W2, C1_W3, C1_W4]),
    ("C2", C2_LABELS, [C2_W1, C2_W2, C2_W3, C2_W4]),
    ("C3", C3_LABELS, [C3_W1, C3_W2, C3_W3, C3_W4]),
    ("C4", C4_LABELS, [C4_W1, C4_W2, C4_W3, C4_W4]),
    ("C5", C5_LABELS, [C5_W1, C5_W2, C5_W3, C5_W4]),
    ("C6", C6_LABELS, [C6_W1, C6_W2, C6_W3, C6_W4]),
    ("C7", C7_LABELS, [C7_W1, C7_W2, C7_W3, C7_W4]),
    ("C8", C8_LABELS, [C8_W1, C8_W2, C8_W3, C8_W4]),
    ("", SUM_LABELS, [SUM_W1, SUM_W2, SUM_W3, SUM_W4]),
]

fig = plt.figure(figsize=(12.7, 16.86), dpi=100)
gs = fig.add_gridspec(len(rows), 4, left=0.0525, right=0.953, top=0.9828,
                      bottom=0.0386, hspace=0, wspace=0)
nrows = len(rows)

for r, (name, labels, windows) in enumerate(rows):
    n = len(labels)
    if name:
        colors = plt.cm.plasma(np.linspace(1, 0, n))
    else:
        colors = plt.cm.plasma(np.linspace(0, 1, n))
    for c in range(4):
        ax = fig.add_subplot(gs[r, c])
        ax.patch.set_visible(False)
        t0, w = win_start[c], win_width[c]
        for vals, lab, col in zip(windows[c], labels, colors):
            t = np.linspace(t0, t0 + w, len(vals))
            ax.plot(t, vals, color=col, lw=4.6, label=lab,
                    solid_joinstyle="round", solid_capstyle="round", zorder=2)
        ax.vlines([event_start[c], event_end[c]], 0, 2.27, colors="#a6a6a6",
                  lw=2.7, linestyles=(0, (4.5, 1.8)), zorder=3)
        ax.set_xlim(t0, t0 + w)
        ax.set_ylim(-0.13, 2.66)
        ax.set_yticks([0, 1, 2])
        if r == nrows - 1:
            ax.set_xticks([t0 + k * w / 4 for k in range(5)], win_ticklabels[c])
        else:
            ax.xaxis.set_major_locator(MultipleLocator(0.04))
            ax.tick_params(labelbottom=False)
        if c > 0:
            ax.tick_params(labelleft=False)
        ax.tick_params(direction="out", length=3.5, width=1.2, labelsize=13.5, pad=4)
        ax.grid(True, color="#d8d8e0", ls=(0, (4, 3)), lw=1.0, zorder=0)
        for sp in ax.spines.values():
            sp.set_linewidth(1.3)
        if c == 0:
            ax.set_zorder(5)
            leg = ax.legend(loc="upper left", ncol=n, fontsize=11, frameon=True,
                            fancybox=False, framealpha=1, edgecolor="none",
                            borderaxespad=0.1, borderpad=0.25, handlelength=1.6,
                            handletextpad=0.3, columnspacing=0.75)
            for h in leg.get_lines():
                h.set_linewidth(4.6)
        if c == 3 and name:
            pos = ax.get_position()
            fig.text(0.975, (pos.y0 + pos.y1) / 2, name, fontsize=19,
                     ha="center", va="center")

fig.text(0.016, 0.511, "contact distance [nm]", rotation=90, fontsize=15,
         ha="center", va="center")
fig.text(0.503, 0.0085, r"time [$\mu$s]", fontsize=15, ha="center", va="center")
fig.text(0.021, 0.9828, "a", fontsize=27, family="cmb10", ha="left", va="baseline")

fig.savefig("out.png", dpi=100, facecolor="white")
